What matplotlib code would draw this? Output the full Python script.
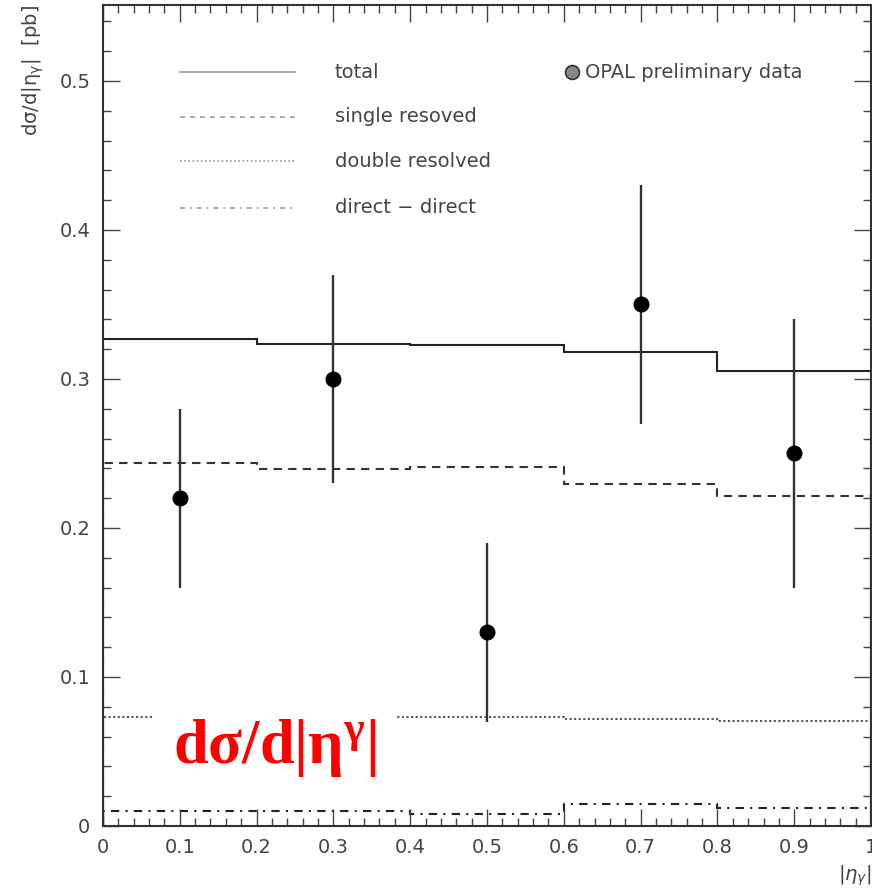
import numpy as np
import matplotlib.pyplot as plt
from matplotlib.ticker import MultipleLocator, FuncFormatter

plt.rcParams['mathtext.fontset'] = 'custom'
plt.rcParams['mathtext.rm'] = 'Liberation Serif:bold'
plt.rcParams['mathtext.sf'] = 'DejaVu Sans'
plt.rcParams['mathtext.it'] = 'DejaVu Sans:italic'
plt.rcParams['mathtext.default'] = 'rm'

# bin edges in |eta_gamma|
edges = [0.0, 0.2, 0.4, 0.6, 0.8, 1.0]

# MC predictions per bin [pb]
total = [0.3265, 0.3236, 0.3231, 0.318, 0.3055]
single_res = [0.2436, 0.2397, 0.2409, 0.2297, 0.2216]
double_res = [0.0732, 0.0732, 0.0732, 0.0721, 0.0705]
direct_direct = [0.0098, 0.0098, 0.0077, 0.0149, 0.0118]

# OPAL preliminary data points
eta = [0.1, 0.3, 0.5, 0.7, 0.9]
xsec = [0.22, 0.30, 0.13, 0.35, 0.25]
xsec_err = [0.06, 0.07, 0.06, 0.08, 0.09]

fig = plt.figure(figsize=(8.72, 8.94), dpi=100)
ax = fig.add_axes([0.118, 0.0761, 0.881, 0.9183])

ax.stairs(total, edges, baseline=0, color='#222222', lw=1.5, ls='-')
ax.stairs(single_res, edges, baseline=0, color='#333333', lw=1.5, ls=(0, (4, 3)))
ax.stairs(double_res, edges, baseline=0, color='#555555', lw=1.5, ls=(0, (1, 1.2)))
ax.stairs(direct_direct, edges, baseline=0, color='#222222', lw=1.5, ls=(0, (4, 3, 1, 3)))

ax.errorbar(eta, xsec, yerr=xsec_err, fmt='o', color='black', ms=10.5,
            ecolor='#333333', elinewidth=1.7, capsize=0, zorder=5)

# legend block
leg_labels = ['total', 'single resoved', 'double resolved', 'direct \u2212 direct']
leg_styles = ['-', (0, (3, 3)), (0, (1, 1.5)), (0, (3, 3, 1, 3))]
leg_y = [0.506, 0.476, 0.446, 0.415]
for lab, st, yy in zip(leg_labels, leg_styles, leg_y):
    ax.plot([0.1, 0.25], [yy, yy], color='#999999', lw=1.2, ls=st)
    ax.text(0.302, yy, lab, fontsize=14, color='#444444',
            va='center', ha='left', family='DejaVu Sans')
ax.plot([0.61], [0.506], 'o', ms=10, mfc='#888888', mec='#333333', mew=1.2)
ax.text(0.628, 0.506, 'OPAL preliminary data', fontsize=14, color='#444444',
        va='center', ha='left', family='DejaVu Sans')

# big red label
ax.text(0.224, 0.052, r'$d\sigma/d|\eta^{\gamma}|$', color='#ff0000', fontsize=45,
        ha='center', va='center', zorder=6,
        bbox=dict(facecolor='white', edgecolor='none', pad=14))

ax.set_xlim(0, 1)
ax.set_ylim(0, 0.551)
ax.xaxis.set_major_locator(MultipleLocator(0.1))
ax.xaxis.set_minor_locator(MultipleLocator(0.02))
ax.yaxis.set_major_locator(MultipleLocator(0.1))
ax.yaxis.set_minor_locator(MultipleLocator(0.02))
fmt = FuncFormatter(lambda v, p: '%g' % round(v, 3))
ax.xaxis.set_major_formatter(fmt)
ax.yaxis.set_major_formatter(fmt)
ax.tick_params(which='both', direction='in', top=True, right=True,
               colors='#444444', labelsize=14, labelcolor='#444444')
ax.tick_params(which='major', length=12, width=1.0, pad=9)
ax.tick_params(which='minor', length=6, width=1.0)
for sp in ax.spines.values():
    sp.set_color('#333333')
    sp.set_linewidth(1.5)

ax.set_xlabel(r'$\mathsf{|}\mathit{\eta}_{\mathit{\gamma}}\mathsf{|}$', fontsize=14,
              color='#444444', loc='right', labelpad=4)
ax.set_ylabel(r'$\mathsf{d\sigma/d|\eta_{\gamma}|\ \ [pb]}$', fontsize=14,
              color='#444444', loc='top', labelpad=10)

fig.savefig('out.png', dpi=100)
